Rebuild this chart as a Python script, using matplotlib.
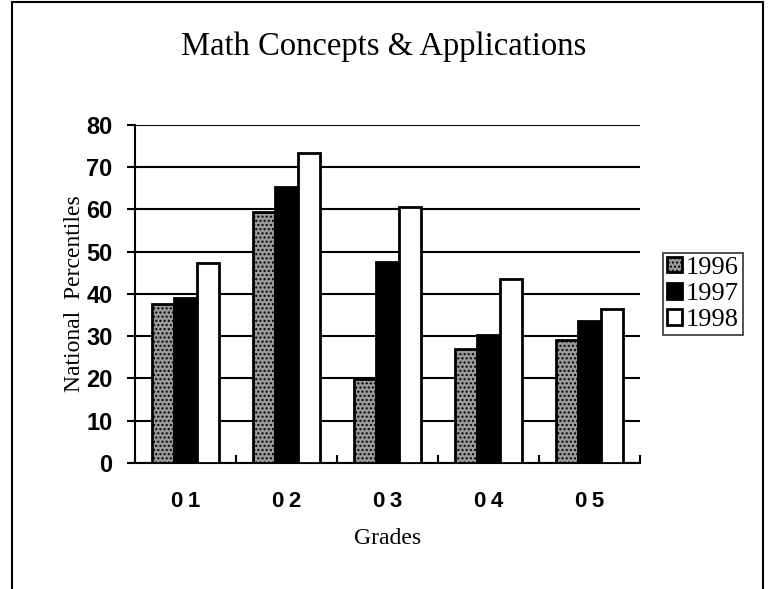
import matplotlib.pyplot as plt
import numpy as np
from matplotlib.patches import Rectangle

grades = ["01", "02", "03", "04", "05"]
years = ["1996", "1997", "1998"]
p1996 = [37.6, 59.3, 19.9, 27.0, 29.0]
p1997 = [39.1, 65.2, 47.5, 30.2, 33.7]
p1998 = [47.2, 73.4, 60.6, 43.5, 36.5]

serif = "Liberation Serif"
sans = "Liberation Sans"

fig = plt.figure(figsize=(7.71, 5.89), dpi=100)
ax = fig.add_axes([0.175, 0.214, 0.655, 0.574])

x = np.arange(len(grades))
w = 0.22
styles = [
    dict(facecolor="#9a9a9a", hatch="....", edgecolor="black"),
    dict(facecolor="black", edgecolor="black"),
    dict(facecolor="white", edgecolor="black"),
]
for i, (vals, lab) in enumerate(zip([p1996, p1997, p1998], years)):
    ax.bar(x + (i - 1) * w, vals, w, label=lab, linewidth=2, zorder=3, **styles[i])

ax.set_xlim(-0.5, len(grades) - 0.5)
ax.set_ylim(0, 80)
ax.set_yticks(range(0, 81, 10))
ax.yaxis.grid(True, color="black", linewidth=1.5, zorder=0)
ax.set_axisbelow(True)

for s in ["top", "right"]:
    ax.spines[s].set_visible(False)
ax.spines["left"].set_linewidth(1.5)
ax.spines["bottom"].set_linewidth(1.5)

ax.set_xticks(x)
ax.set_xticklabels([g[0] + "\u2009" + g[1] for g in grades])
ax.set_xticks(np.arange(-0.5, len(grades), 1), minor=True)
ax.tick_params(axis="x", which="major", length=0, pad=20, labelsize=16)
ax.tick_params(axis="x", which="minor", direction="in", length=6, width=1.5)
ax.tick_params(axis="y", direction="out", length=6, width=1.5, pad=10, labelsize=17)
for t in ax.get_xticklabels() + ax.get_yticklabels():
    t.set_fontfamily([sans, "DejaVu Sans"])
    t.set_fontweight("bold")

ax.set_xlabel("Grades", fontsize=17, family=serif, labelpad=12)
ax.set_ylabel("National  Percentiles", fontsize=17, family=serif, labelpad=1)
fig.text(0.498, 0.92, "Math Concepts & Applications", ha="center", va="center",
         fontsize=23.5, family=serif)

leg = ax.legend(loc="center left", bbox_to_anchor=(1.046, 0.5), frameon=True,
                fancybox=False, edgecolor="black", prop={"family": serif, "size": 19},
                handlelength=0.55, handleheight=0.55, handletextpad=0.15,
                borderpad=0.15, labelspacing=0.15, borderaxespad=0)
leg.get_frame().set_linewidth(1.2)

fig.patches.append(Rectangle((0.016, -0.01), 0.973, 1.006, transform=fig.transFigure,
                             fill=False, edgecolor="black", linewidth=1.5))

fig.savefig("out.png", dpi=100)
